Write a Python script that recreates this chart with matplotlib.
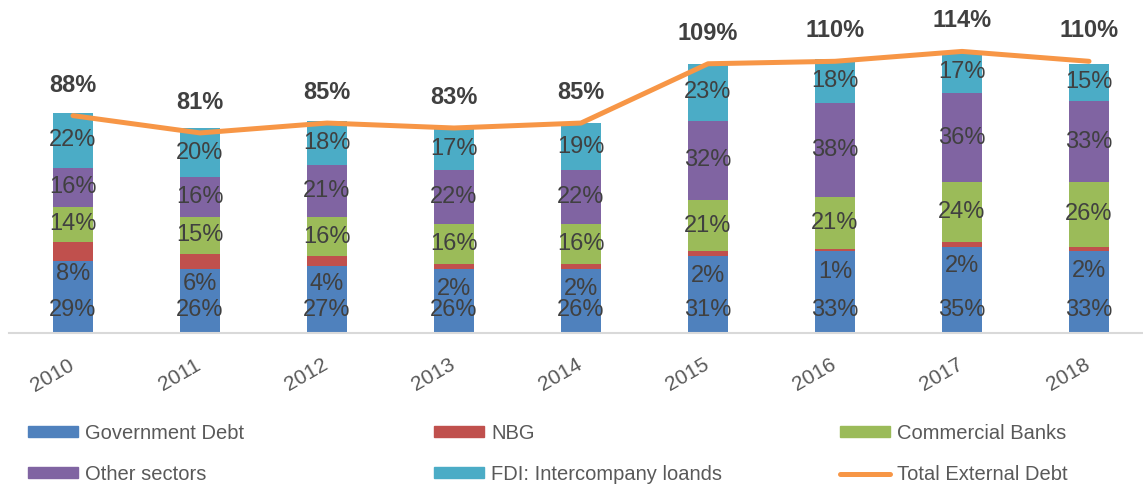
import matplotlib
matplotlib.use("Agg")
import matplotlib.pyplot as plt
import matplotlib.transforms as mtransforms
from matplotlib.lines import Line2D
from matplotlib.patches import Patch

plt.rcParams['font.family'] = ['Liberation Sans', 'DejaVu Sans']

years = ['2010', '2011', '2012', '2013', '2014', '2015', '2016', '2017', '2018']
gov = [29, 26, 27, 26, 26, 31, 33, 35, 33]
nbg = [8, 6, 4, 2, 2, 2, 1, 2, 2]
banks = [14, 15, 16, 16, 16, 21, 21, 24, 26]
other = [16, 16, 21, 22, 22, 32, 38, 36, 33]
fdi = [22, 20, 18, 17, 19, 23, 18, 17, 15]
total = [88, 81, 85, 83, 85, 109, 110, 114, 110]

names = ['Government Debt', 'NBG', 'Commercial Banks', 'Other sectors',
         'FDI: Intercompany loands', 'Total External Debt']
colors = ['#4F81BD', '#C0504D', '#9BBB59', '#8064A2', '#4BACC6', '#F79646']
txt = '#404040'

fig = plt.figure(figsize=(11.43, 4.87), dpi=100)
ax = fig.add_axes([9.5 / 1143, 154 / 487, 1143 / 1143, 296.4 / 487])

x = list(range(len(years)))
w = 0.315
series = [gov, nbg, banks, other, fdi]
bottom = [0] * len(years)
for i, s in enumerate(series):
    ax.bar(x, s, w, bottom=bottom, color=colors[i], label=names[i], zorder=2)
    for j in x:
        if i == 0:
            y = 9.3  # inside base
        elif i == 1:
            y = bottom[j] + s[j] / 2 - 9
        else:
            y = bottom[j] + s[j] / 2
        ax.text(j, y, f'{s[j]}%', ha='center', va='center', fontsize=17,
                color=txt, zorder=4)
    bottom = [b + v for b, v in zip(bottom, s)]

ax.plot(x, total, color=colors[5], lw=3.6, zorder=3, solid_capstyle='round')
for j in x:
    ax.annotate(f'{total[j]}%', (j, total[j]), xytext=(0, 22),
                textcoords='offset points', ha='center', va='center',
                fontsize=17, fontweight='bold', color=txt)

ax.set_xlim(-0.5, 8.5)
ax.set_ylim(0, 120)
ax.set_yticks([])
ax.set_xticks(x)
ax.set_xticklabels(years, rotation=30, ha='right', fontsize=15, color='#595959')
ax.tick_params(axis='x', length=0, pad=16)
shift = mtransforms.ScaledTranslation(4 / 100, 0, fig.dpi_scale_trans)
for lab in ax.get_xticklabels():
    lab.set_transform(lab.get_transform() + shift)
for sp in ['top', 'right', 'left']:
    ax.spines[sp].set_visible(False)
ax.spines['bottom'].set_color('#D9D9D9')
ax.spines['bottom'].set_linewidth(1.5)
ax.spines['bottom'].set_zorder(5)

# legend, three columns
cols = [
    [Patch(color=colors[0], label=names[0]), Patch(color=colors[3], label=names[3])],
    [Patch(color=colors[1], label=names[1]), Patch(color=colors[4], label=names[4])],
    [Patch(color=colors[2], label=names[2]),
     Line2D([], [], color=colors[5], lw=3.6, solid_capstyle='round', label=names[5])],
]
xpos = [28, 434, 840]
for hs, px in zip(cols, xpos):
    fig.legend(handles=hs, loc='center left', bbox_to_anchor=(px / 1143, 33 / 487),
               frameon=False, borderpad=0, borderaxespad=0, fontsize=14.5,
               labelcolor='#595959', handlelength=2.5, handleheight=0.45,
               handletextpad=0.33, labelspacing=1.1)

fig.savefig('out.png', dpi=100)
